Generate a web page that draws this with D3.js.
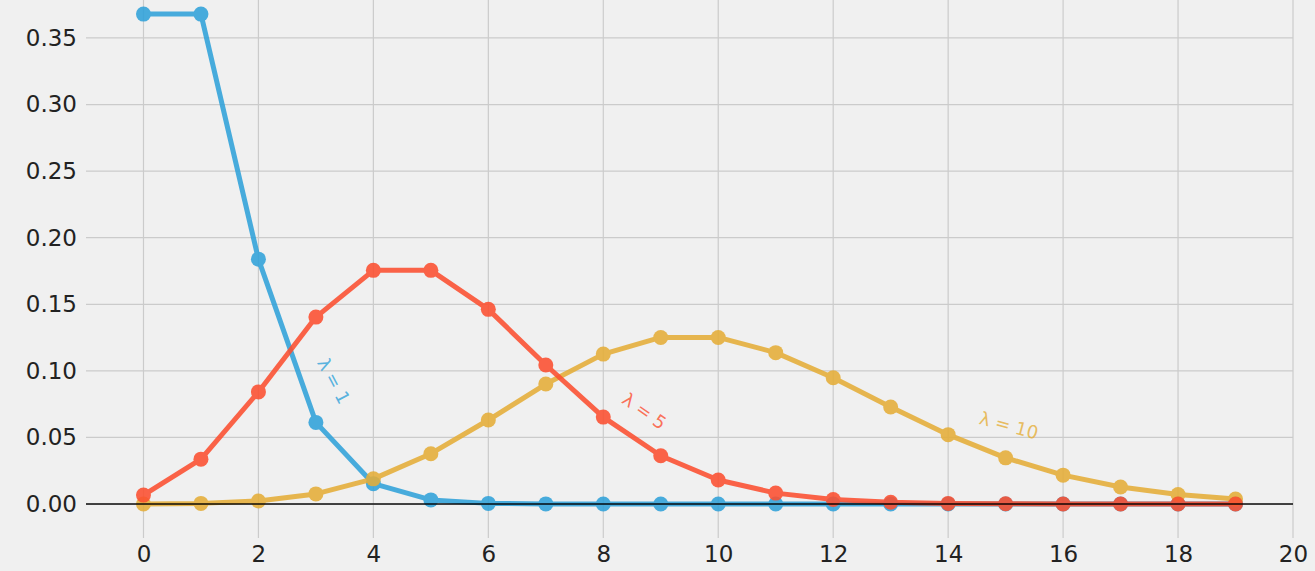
<!DOCTYPE html>
<html><head><meta charset="utf-8">
<script src="https://cdn.jsdelivr.net/npm/d3@7"></script>
<style>html,body{margin:0;padding:0;background:#f0f0f0;}svg{display:block;}</style>
</head><body>
<svg id="c" width="1315" height="571"></svg>
<script>
const ks = [0,1,2,3,4,5,6,7,8,9,10,11,12,13,14,15,16,17,18,19];
const lam1 = [0.3679,0.3679,0.1839,0.0613,0.0153,0.0031,0.0005,0.0001,0,0,0,0,0,0,0,0,0,0,0,0];
const lam5 = [0.0067,0.0337,0.0842,0.1404,0.1755,0.1755,0.1462,0.1044,0.0653,0.0363,0.0181,0.0082,0.0034,0.0013,0.0005,0.0002,0.0000,0,0,0];
const lam10 = [0.0000,0.0005,0.0023,0.0076,0.0189,0.0378,0.0631,0.0901,0.1126,0.1251,0.1251,0.1137,0.0948,0.0729,0.0521,0.0347,0.0217,0.0128,0.0071,0.0037];
const xTicks = [0,2,4,6,8,10,12,14,16,18,20];
const yTicks = [0,0.05,0.10,0.15,0.20,0.25,0.30,0.35];
const seriesNames = ["λ = 1","λ = 5","λ = 10"];
const colors = ["#30a2da","#fc4f30","#e5ae38"];

const svg = d3.select("#c");
const x = d3.scaleLinear().domain([-1,20]).range([86,1293]);
const y = d3.scaleLinear().domain([-0.0255,0.3785]).range([538,0]);

// grid
svg.append("g").selectAll("line").data(xTicks).join("line")
  .attr("x1",d=>x(d)).attr("x2",d=>x(d)).attr("y1",0).attr("y2",538)
  .attr("stroke","#cbcbcb").attr("stroke-width",1.2);
svg.append("g").selectAll("line").data(yTicks).join("line")
  .attr("x1",86).attr("x2",1293).attr("y1",d=>y(d)).attr("y2",d=>y(d))
  .attr("stroke","#cbcbcb").attr("stroke-width",1.2);

// axes labels
const xAxis = d3.axisBottom(x).tickValues(xTicks).tickSize(0).tickPadding(8).tickFormat(d3.format("d"));
const gx = svg.append("g").attr("transform","translate(0,538)").call(xAxis);
const yAxis = d3.axisLeft(y).tickValues(yTicks).tickSize(0).tickPadding(9).tickFormat(d3.format(".2f"));
const gy = svg.append("g").attr("transform","translate(86,0)").call(yAxis);
[gx,gy].forEach(g=>{
  g.select(".domain").remove();
  g.selectAll("text").attr("font-family","DejaVu Sans").attr("font-size",23).attr("fill","#222");
});

const data = [lam1, lam5, lam10];
const order = [0,2,1];
const line = d3.line().x((d,i)=>x(ks[i])).y(d=>y(d));
order.forEach(s=>{
  const g = svg.append("g").attr("opacity",0.88);
  g.append("path").datum(data[s]).attr("d",line).attr("fill","none")
    .attr("stroke",colors[s]).attr("stroke-width",5).attr("stroke-linejoin","round");
  g.selectAll("circle").data(data[s]).join("circle")
    .attr("cx",(d,i)=>x(ks[i])).attr("cy",d=>y(d)).attr("r",7.5).attr("fill",colors[s]);
});

// zero line
svg.append("line").attr("x1",86).attr("x2",1293).attr("y1",y(0)).attr("y2",y(0))
  .attr("stroke","#000").attr("stroke-opacity",0.7).attr("stroke-width",2);

// annotations
const ann = [
  {s:0, kx:3.29, ky:0.092, rot:62},
  {s:1, kx:8.7, ky:0.069, rot:35},
  {s:2, kx:15.05, ky:0.058, rot:15}
];
ann.forEach(a=>{
  svg.append("text").attr("transform",`translate(${x(a.kx)},${y(a.ky)}) rotate(${a.rot})`)
    .attr("text-anchor","middle").attr("dominant-baseline","middle")
    .attr("font-family","DejaVu Sans").attr("font-size",18)
    .attr("fill",colors[a.s]).attr("fill-opacity",0.8).text(seriesNames[a.s]);
});
</script>
</body></html>
